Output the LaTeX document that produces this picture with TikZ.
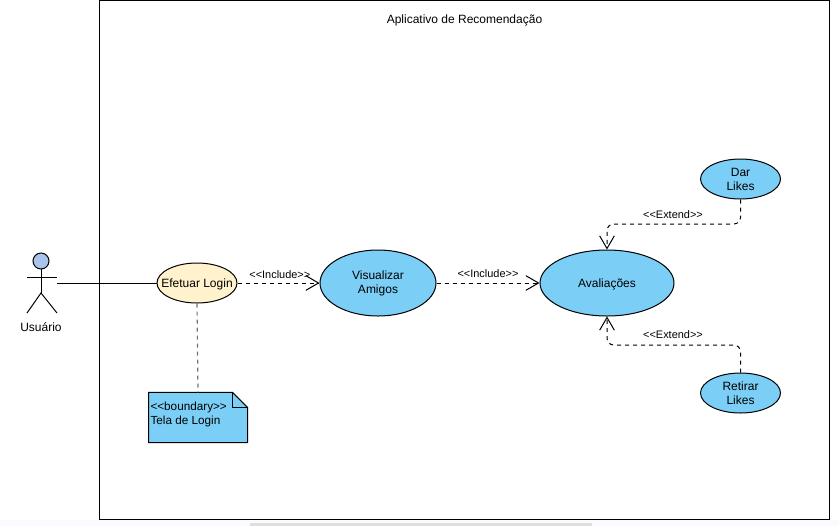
\documentclass[tikz,border=0pt]{standalone}
\usepackage{fontspec}
\setmainfont{Liberation Sans}
\usetikzlibrary{shapes.geometric,arrows.meta,calc}
\definecolor{ucblue}{HTML}{7BCEF6}
\definecolor{ucyellow}{HTML}{FFF2CC}
\definecolor{headblue}{HTML}{A9C4EB}
\newcommand{\stereo}[1]{<\kern0pt<#1>\kern0pt>}
\tikzset{
  usecase/.style={draw,ellipse,fill=ucblue,inner sep=0pt,align=center,font=\fontsize{9}{10.5}\selectfont,execute at begin node={\rule{0pt}{8.5pt}}},
  dep/.style={draw,dashed,line width=0.75pt,dash pattern=on 3pt off 3pt,-{Straight Barb[length=9.5pt,width=11pt,line width=0.75pt]}},
  deplabel/.style={inner sep=0pt,font=\fontsize{8.2}{9}\selectfont}
}
\begin{document}
\begin{tikzpicture}[x=0.75pt,y=-0.75pt,line width=0.75pt]
\useasboundingbox (0,0) rectangle (839,526);

\fill[blue!2!white] (0,520) rectangle (839,526);
\fill[black!13] (250,523) rectangle (592,526);

\node[draw,minimum width=547.5pt,minimum height=389pt,inner sep=0pt] (frame) at (464.5,260) {};
\node[inner sep=0pt,font=\fontsize{9}{10.5}\selectfont] (title) at (464.5,20) {Aplicativo de Recomendação};

\filldraw[fill=headblue] (41,261) circle (8);
\draw (41,269) -- (41,293);
\draw (27,277) -- (57,277);
\draw (27,313) -- (41,293) -- (57,313);
\coordinate (hand) at (57,283);
\node[inner sep=0pt,font=\fontsize{9}{10.5}\selectfont] (usuario) at (41,327) {Usuário};

\node[usecase,fill=ucyellow,minimum width=60pt,minimum height=30pt] (login) at (197,283) {\makebox[0pt]{Efetuar Login}};
\node[usecase,minimum width=87pt,minimum height=49.5pt] (amigos) at (378,283) {Visualizar\\Amigos};
\node[usecase,minimum width=100.5pt,minimum height=49.5pt] (avaliacoes) at (607,283) {Avaliações};
\node[usecase,minimum width=60pt,minimum height=30pt] (dar) at (740.5,179) {Dar\\Likes};
\node[usecase,minimum width=60pt,minimum height=30pt] (retirar) at (740.5,393) {Retirar\\Likes};

\node[minimum width=73.5pt,minimum height=37pt,inner sep=0pt] (note) at (198,417.5) {};
\filldraw[fill=ucblue] (note.north west) -- ($(note.north east)+(-15,0)$) -- ($(note.north east)+(0,15)$) -- (note.south east) -- (note.south west) -- cycle;
\draw ($(note.north east)+(-15,0)$) -- ($(note.north east)+(-15,15)$) -- ($(note.north east)+(0,15)$);
\node[anchor=west,inner sep=0pt,align=left,font=\fontsize{8.8}{10.5}\selectfont] (notetext) at (150,414) {\stereo{boundary}\\Tela de Login};

\draw (hand) -- (login);
\draw[black!55,dashed,line width=0.9pt,dash pattern=on 3pt off 3pt] (login.south) -- (note.north);

\draw[dep] (login) -- (amigos) node[deplabel,midway,yshift=6.5pt,xshift=1pt] (inc1) {\stereo{Include}};
\draw[dep] (amigos) -- (avaliacoes) node[deplabel,midway,yshift=7pt] (inc2) {\stereo{Include}};

\coordinate (bendtop) at (673,224);
\coordinate (bendbot) at (673,345);
\draw[dep,rounded corners=5pt] (dar.south) |- (bendtop) -| (avaliacoes.north);
\draw[dep,rounded corners=5pt] (retirar.north) |- (bendbot) -| (avaliacoes.south);
\node[deplabel] (ext1) at (673,215) {\stereo{Extend}};
\node[deplabel] (ext2) at (673,335) {\stereo{Extend}};
\end{tikzpicture}
\end{document}
